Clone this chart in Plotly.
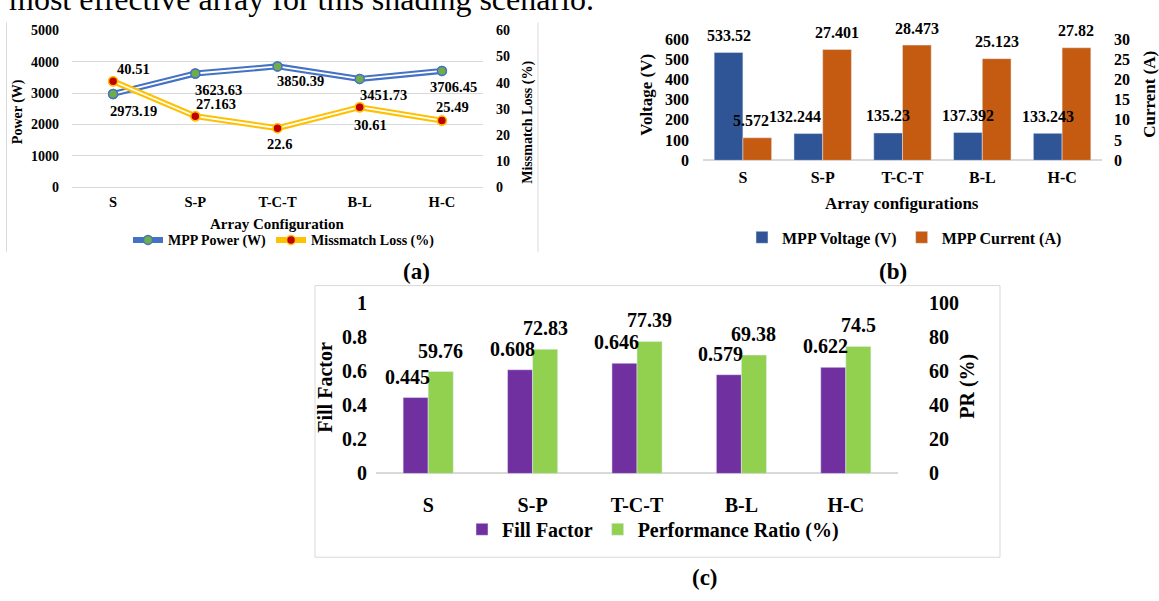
import plotly.graph_objects as go

# ---- data -------------------------------------------------------------
configs = ["S", "S-P", "T-C-T", "B-L", "H-C"]

mpp_power = [2973.19, 3623.63, 3850.39, 3451.73, 3706.45]      # W
mismatch_loss = [40.51, 27.163, 22.6, 30.61, 25.49]            # %

mpp_voltage = [533.52, 132.244, 135.23, 137.392, 133.243]      # V
mpp_current = [5.572, 27.401, 28.473, 25.123, 27.82]           # A

fill_factor = [0.445, 0.608, 0.646, 0.579, 0.622]
perf_ratio = [59.76, 72.83, 77.39, 69.38, 74.5]                # %

# ---- page geometry (pixels) ---------------------------------------------
W, H = 1159, 601
FONT = "Liberation Serif"


def px(x):
    return x / W


def py(y):
    return 1 - y / H


def bold(size):
    return dict(family=FONT, size=size, color="black", weight="bold")


GRID = "#D9D9D9"
BLUE_LINE, GREEN_MK = "#4472C4", "#70AD47"
GOLD_LINE, RED_MK = "#FFC000", "#C00000"
V_BLUE, I_ORANGE = "#2F5597", "#C55A11"
FF_PURPLE, PR_GREEN = "#7030A0", "#92D050"

fig = go.Figure()

# ---- (a) MPP power and mismatch loss -----------------------------------
# double-stroke look: wide coloured line, thin white core, markers on top
fig.add_trace(go.Scatter(
    x=configs, y=mpp_power, name="MPP Power (W)", mode="lines+markers",
    line=dict(color=BLUE_LINE, width=6),
    marker=dict(size=9, color=GREEN_MK, line=dict(color=BLUE_LINE, width=1.5)),
    xaxis="x", yaxis="y", legend="legend"))
fig.add_trace(go.Scatter(
    x=configs, y=mpp_power, mode="lines", showlegend=False, hoverinfo="skip",
    line=dict(color="white", width=1.8), xaxis="x", yaxis="y"))
fig.add_trace(go.Scatter(
    x=configs, y=mpp_power, mode="markers", showlegend=False,
    marker=dict(size=9, color=GREEN_MK, line=dict(color=BLUE_LINE, width=1.5)),
    xaxis="x", yaxis="y"))

fig.add_trace(go.Scatter(
    x=configs, y=mismatch_loss, name="Missmatch Loss (%)", mode="lines+markers",
    line=dict(color=GOLD_LINE, width=6),
    marker=dict(size=9, color=RED_MK, line=dict(color=GOLD_LINE, width=1.5)),
    xaxis="x", yaxis="y2", legend="legend"))
fig.add_trace(go.Scatter(
    x=configs, y=mismatch_loss, mode="lines", showlegend=False, hoverinfo="skip",
    line=dict(color="white", width=1.8), xaxis="x", yaxis="y2"))
fig.add_trace(go.Scatter(
    x=configs, y=mismatch_loss, mode="markers", showlegend=False,
    marker=dict(size=9, color=RED_MK, line=dict(color=GOLD_LINE, width=1.5)),
    xaxis="x", yaxis="y2"))

# ---- (b) MPP voltage and current ----------------------------------------
BW_B = 0.36
fig.add_trace(go.Bar(
    x=configs, y=mpp_voltage, name="MPP Voltage (V)", marker_color=V_BLUE,
    width=BW_B, offset=-BW_B, xaxis="x2", yaxis="y3", legend="legend2"))
fig.add_trace(go.Bar(
    x=configs, y=mpp_current, name="MPP Current (A)", marker_color=I_ORANGE,
    width=BW_B, offset=0, xaxis="x2", yaxis="y4", legend="legend2"))

# ---- (c) fill factor and performance ratio ------------------------------
BW_C = 0.24
fig.add_trace(go.Bar(
    x=configs, y=fill_factor, name="Fill Factor", marker_color=FF_PURPLE,
    width=BW_C, offset=-BW_C, xaxis="x3", yaxis="y5", legend="legend3"))
fig.add_trace(go.Bar(
    x=configs, y=perf_ratio, name="Performance Ratio (%)", marker_color=PR_GREEN,
    width=BW_C, offset=0, xaxis="x3", yaxis="y6", legend="legend3"))

annotations = []

# value labels, (a)
power_off = [(20, 17), (23, 17), (23, 15), (24, 16), (12, 16)]
loss_off = [(20, -12), (21, -12), (2, 16), (11, 18), (11, -14)]
for i, v in enumerate(mpp_power):
    dx, dy = power_off[i]
    annotations.append(dict(x=i, y=v, xref="x", yref="y", text=str(v),
                            showarrow=False, xshift=dx, yshift=-dy, font=bold(14.5)))
for i, v in enumerate(mismatch_loss):
    dx, dy = loss_off[i]
    annotations.append(dict(x=i, y=v, xref="x", yref="y2", text=str(v),
                            showarrow=False, xshift=dx, yshift=-dy, font=bold(14.5)))

# value labels, (b)
volt_dx = [0, -13, 0, 0, 0]
curr_dx = [-6, 0, 0, 0, 0]
for i, v in enumerate(mpp_voltage):
    annotations.append(dict(x=i - BW_B / 2, y=v, xref="x2", yref="y3", text=str(v),
                            showarrow=False, xshift=volt_dx[i], yshift=17, font=bold(16)))
for i, v in enumerate(mpp_current):
    annotations.append(dict(x=i + BW_B / 2, y=v, xref="x2", yref="y4", text=str(v),
                            showarrow=False, xshift=curr_dx[i], yshift=17, font=bold(16)))

# value labels, (c)
for i, v in enumerate(fill_factor):
    annotations.append(dict(x=i - BW_C / 2, y=v, xref="x3", yref="y5", text=str(v),
                            showarrow=False, xshift=-8, yshift=21, font=bold(20)))
for i, v in enumerate(perf_ratio):
    annotations.append(dict(x=i + BW_C / 2, y=v, xref="x3", yref="y6", text=str(v),
                            showarrow=False, xshift=0, yshift=21, font=bold(20)))


def page_text(x, y, text, size, angle=0, weight="bold"):
    annotations.append(dict(
        x=px(x), y=py(y), xref="paper", yref="paper", text=text, showarrow=False,
        textangle=angle, xanchor="center", yanchor="middle",
        font=dict(family=FONT, size=size, color="black", weight=weight)))


# axis titles
page_text(18, 105, "Power (W)", 14, -90)
page_text(528, 116, "Missmatch Loss (%)", 14, -90)
page_text(277, 221, "Array Configuration", 15)
page_text(647, 87, "Voltage (V)", 17, -90)
page_text(1150, 87, "Current (A)", 17, -90)
page_text(902, 200, "Array configurations", 17)
page_text(325, 390, "Fill Factor", 20, -90)
page_text(968, 390, "PR (%)", 20, -90)

# panel tags
page_text(416, 270, "(a)", 23)
page_text(893, 270, "(b)", 23)
page_text(705, 588, "(c)", 23)

# running text of the page above the panels (only its lower part is on the page)
annotations.append(dict(
    x=px(7), y=py(-12), xref="paper", yref="paper", xanchor="left", yanchor="middle",
    text="most effective array for this shading scenario.", showarrow=False,
    font=dict(family=FONT, size=32, color="black")))

# ---- axes ----------------------------------------------------------------
cat_axis = dict(type="category", range=[-0.5, 4.5], showgrid=False, showline=False,
                zeroline=False, ticks="")

fig.update_layout(
    width=W, height=601, margin=dict(l=0, r=0, t=0, b=0),
    paper_bgcolor="white", plot_bgcolor="rgba(0,0,0,0)",
    font=dict(family=FONT, color="black"),
    barmode="overlay", showlegend=True,
    xaxis=dict(cat_axis, domain=[px(72), px(483)], anchor="y",
               tickfont=bold(14.5), ticklabelstandoff=4),
    yaxis=dict(domain=[py(183), py(20)], range=[0, 5000], dtick=1000,
               showgrid=True, gridcolor=GRID, gridwidth=1, zeroline=True,
               zerolinecolor=GRID, zerolinewidth=1, showline=False,
               tickfont=bold(14), ticklabelstandoff=12, anchor="x"),
    yaxis2=dict(overlaying="y", side="right", anchor="x", range=[0, 60], dtick=10,
                showgrid=False, zeroline=False, showline=False,
                tickfont=bold(14), ticklabelstandoff=12),
    xaxis2=dict(cat_axis, domain=[px(703), px(1102)], anchor="y3",
                tickfont=bold(16), ticklabelstandoff=6),
    yaxis3=dict(domain=[py(155), py(29)], range=[0, 600], dtick=100,
                showgrid=False, zeroline=True, zerolinecolor=GRID, zerolinewidth=1.5,
                showline=False, tickfont=bold(16), ticklabelstandoff=13, anchor="x2"),
    yaxis4=dict(overlaying="y3", side="right", anchor="x2", range=[0, 30], dtick=5,
                showgrid=False, zeroline=False, showline=False,
                tickfont=bold(16), ticklabelstandoff=11),
    xaxis3=dict(cat_axis, domain=[px(376), px(898)], anchor="y5",
                tickfont=bold(20), ticklabelstandoff=18),
    yaxis5=dict(domain=[py(480), py(303)], range=[0, 1], dtick=0.2,
                showgrid=False, zeroline=True, zerolinecolor=GRID, zerolinewidth=1.5,
                showline=False, tickfont=bold(20), ticklabelstandoff=8, anchor="x3"),
    yaxis6=dict(overlaying="y5", side="right", anchor="x3", range=[0, 100], dtick=20,
                showgrid=False, zeroline=False, showline=False,
                tickfont=bold(20), ticklabelstandoff=30),
    legend=dict(orientation="h", x=px(128), y=py(238), xanchor="left", yanchor="middle",
                font=bold(14), bgcolor="rgba(0,0,0,0)", itemwidth=30,
                tracegroupgap=0),
    legend2=dict(orientation="h", x=px(742), y=py(235), xanchor="left", yanchor="middle",
                 font=bold(16), bgcolor="rgba(0,0,0,0)", itemwidth=30),
    legend3=dict(orientation="h", x=px(462), y=py(538), xanchor="left", yanchor="middle",
                 font=bold(20), bgcolor="rgba(0,0,0,0)", itemwidth=30),
    annotations=annotations,
    shapes=[
        # frame of panel (a)
        dict(type="line", xref="paper", yref="paper", x0=px(6.5), x1=px(6.5),
             y0=py(12), y1=py(250), line=dict(color=GRID, width=1)),
        dict(type="line", xref="paper", yref="paper", x0=px(538), x1=px(538),
             y0=py(12), y1=py(250), line=dict(color=GRID, width=1)),
        # frame of panel (c)
        dict(type="rect", xref="paper", yref="paper", x0=px(315), x1=px(1000),
             y0=py(567), y1=py(285), line=dict(color=GRID, width=1)),
    ],
)

fig.write_html("out.html")
